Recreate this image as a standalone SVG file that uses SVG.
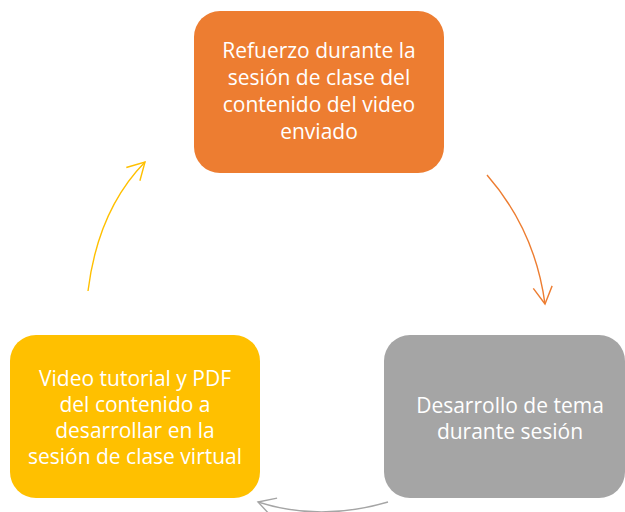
<svg xmlns="http://www.w3.org/2000/svg" width="625" height="512" viewBox="0 0 625 512">
<style>
.lbl{font-family:"Open Sans","Liberation Sans",Arial,sans-serif;font-size:21px;fill:#ffffff;text-anchor:middle}
.con{fill:none;stroke-width:1.4}
</style>
<defs>
<marker id="mo" markerUnits="userSpaceOnUse" viewBox="-20 -12 22 24" refX="0" refY="0" markerWidth="22" markerHeight="24" orient="auto"><path d="M-17,-9.5 L0,0 L-17,9.5" fill="none" stroke="#ED7D31" stroke-width="1.4"/></marker>
<marker id="my" markerUnits="userSpaceOnUse" viewBox="-20 -12 22 24" refX="0" refY="0" markerWidth="22" markerHeight="24" orient="auto"><path d="M-17,-9.5 L0,0 L-17,9.5" fill="none" stroke="#FFC000" stroke-width="1.4"/></marker>
<marker id="mg" markerUnits="userSpaceOnUse" viewBox="-20 -12 22 24" refX="0" refY="0" markerWidth="22" markerHeight="24" orient="auto"><path d="M-17,-9.5 L0,0 L-17,9.5" fill="none" stroke="#A5A5A5" stroke-width="1.4"/></marker>
</defs>
<rect width="625" height="512" fill="#ffffff"/>
<g id="connectors">
<path class="con" d="M487,175 Q535,230 545,304" stroke="#ED7D31" marker-end="url(#mo)"/>
<path class="con" d="M388,502 Q320,522 258,502" stroke="#A5A5A5" marker-end="url(#mg)"/>
<path class="con" d="M88,291 Q98,210 145,162" stroke="#FFC000" marker-end="url(#my)"/>
</g>
<g id="node-refuerzo">
<rect x="194" y="11" width="250" height="162" rx="26" fill="#ED7D31"/>
<text class="lbl" x="319" y="58">Refuerzo durante la</text>
<text class="lbl" x="319" y="85">sesión de clase del</text>
<text class="lbl" x="319" y="112">contenido del video</text>
<text class="lbl" x="319" y="139">enviado</text>
</g>
<g id="node-desarrollo">
<rect x="384" y="335" width="241" height="163" rx="26" fill="#A5A5A5"/>
<text class="lbl" x="510" y="413">Desarrollo de tema</text>
<text class="lbl" x="510" y="439">durante sesión</text>
</g>
<g id="node-video">
<rect x="10" y="335" width="250" height="163" rx="26" fill="#FFC000"/>
<text class="lbl" x="135" y="386">Video tutorial y PDF</text>
<text class="lbl" x="135" y="412">del contenido a</text>
<text class="lbl" x="135" y="438">desarrollar en la</text>
<text class="lbl" x="135" y="464">sesión de clase virtual</text>
</g>
</svg>
